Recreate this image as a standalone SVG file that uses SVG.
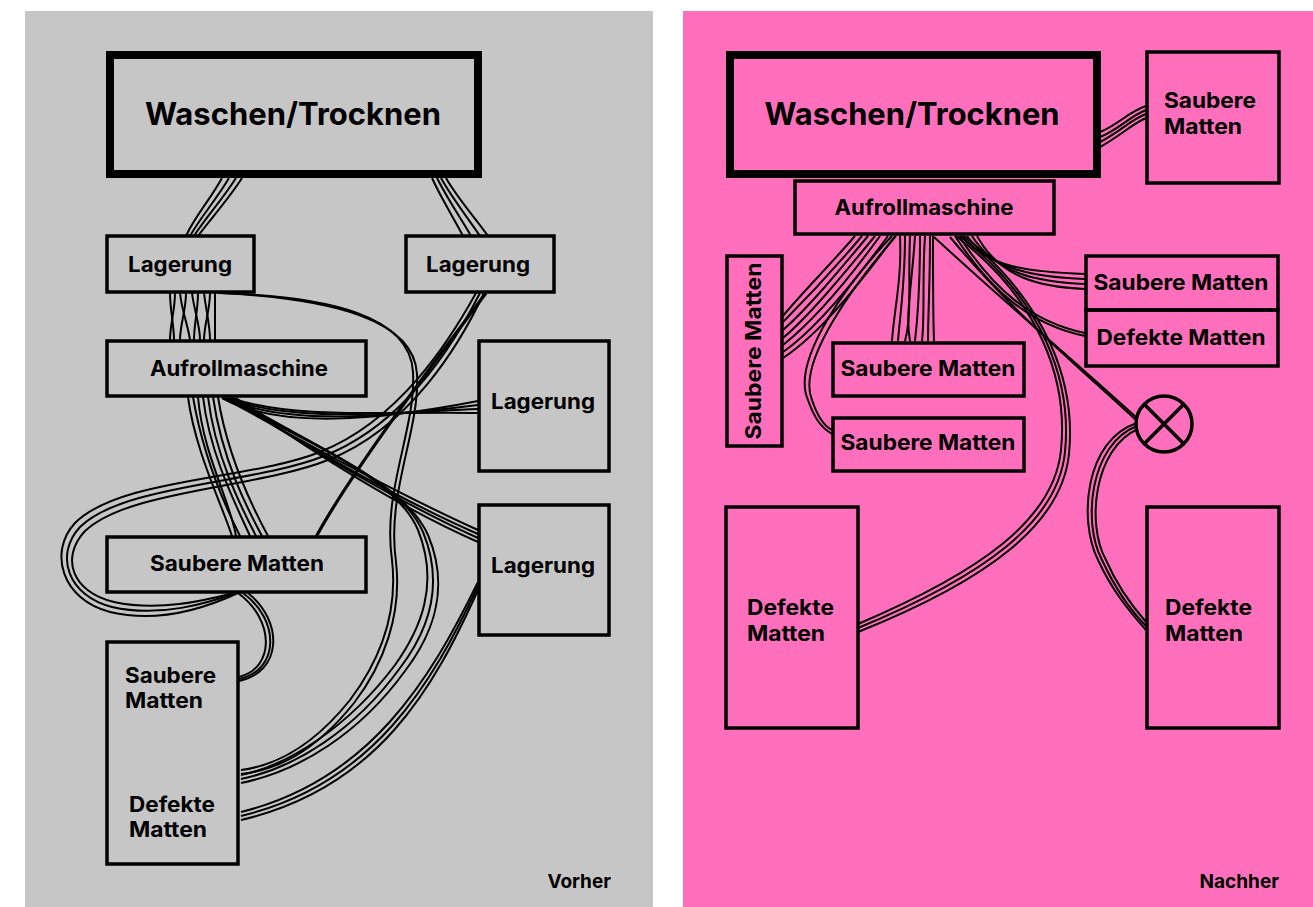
<svg xmlns="http://www.w3.org/2000/svg" width="1313" height="907" viewBox="0 0 1313 907">
<style>
.box{fill:none;stroke:#000;stroke-width:3.5}
.big{fill:none;stroke:#000;stroke-width:8}
.c{fill:none;stroke:#000;stroke-width:2}
.t{fill:none;stroke:#000;stroke-width:3.2}
text{font-family:Inter,"Liberation Sans",Arial,sans-serif;font-weight:700;fill:#000}
.l{font-size:21px}
.b{font-size:31px}
.m{text-anchor:middle}
.e{text-anchor:end;font-size:19px}
</style>
<rect x="0" y="0" width="1313" height="907" fill="#fff"/>
<rect x="25" y="11" width="628" height="896" fill="#c6c6c6"/>
<rect x="683" y="11" width="630" height="896" fill="#ff6fbb"/>

<g id="connectors">
<path class="c" d="M222,178 C210,200 195,216 186,236"/>
<path class="c" d="M229,178 C216,200 200,218 190,236"/>
<path class="c" d="M236,178 C222,200 204,220 194,236"/>
<path class="c" d="M242,178 C228,200 208,222 198,236"/>
<path class="c" d="M432,178 C442,200 455,220 463,236"/>
<path class="c" d="M437,178 C448,200 462,220 471,236"/>
<path class="c" d="M441,178 C452,198 468,218 480,236"/>
<path class="c" d="M446,178 C456,196 475,218 488,236"/>
<path class="c" d="M170,293 C170,310 174,325 174,340"/>
<path class="c" d="M175,293 C175,310 170,325 170,340"/>
<path class="c" d="M180,293 C182,312 188,325 190,340"/>
<path class="c" d="M186,293 C186,310 180,325 180,340"/>
<path class="c" d="M192,293 C194,310 200,325 200,340"/>
<path class="c" d="M198,293 C198,310 194,325 194,340"/>
<path class="c" d="M204,293 C206,310 210,325 210,340"/>
<path class="c" d="M210,293 C210,310 204,325 204,340"/>
<path class="c" d="M215,293 C215,310 215,325 215,340"/>
<path class="c" d="M218,293 C330,296 410,316 413,372 C416,430 382,490 392,560 C398,612 380,660 350,700 C310,750 272,766 241,770"/>
<path class="c" d="M222,293 C334,299 414,320 417,374 C420,432 386,492 396,562 C402,614 384,664 354,703 C314,753 276,770 241,774"/>
<path class="c" d="M188,397 C195,450 220,500 232,536"/>
<path class="c" d="M193,397 C202,450 222,500 240,536"/>
<path class="c" d="M198,397 C203,455 230,500 236,536"/>
<path class="c" d="M203,397 C210,455 236,505 250,536"/>
<path class="c" d="M208,397 C215,455 240,505 256,536"/>
<path class="c" d="M213,397 C222,460 248,510 262,536"/>
<path class="c" d="M218,397 C228,460 255,512 268,536"/>
<path class="c" d="M222,398 C280,430 380,420 478,401"/>
<path class="c" d="M225,398 C285,426 382,417 478,405"/>
<path class="c" d="M228,398 C290,423 386,413 478,409"/>
<path class="c" d="M231,398 C295,420 390,411 478,413"/>
<path class="c" d="M224,398 C300,440 400,495 478,530"/>
<path class="c" d="M228,398 C305,445 400,500 478,534"/>
<path class="c" d="M232,398 C310,450 405,505 478,538"/>
<path class="c" d="M236,398 C315,455 405,510 478,542"/>
<path class="c" d="M226,398 C300,440 395,475 418,530 C440,585 420,630 395,665 C350,725 290,765 241,775"/>
<path class="c" d="M230,398 C305,442 400,478 423,532 C446,588 426,634 400,668 C355,730 295,768 241,779"/>
<path class="c" d="M234,398 C310,445 405,482 428,535 C452,592 430,638 405,671 C360,733 300,771 241,783"/>
<path class="t" d="M486,293 C455,335 355,465 316,537"/>
<path class="c" d="M476,293 C450,340 400,420 320,452 C250,480 120,478 75,523 C48,552 62,600 110,612 C160,624 210,606 238,593"/>
<path class="c" d="M480,293 C455,342 405,424 324,456 C254,484 124,484 80,527 C54,555 68,596 112,607 C160,618 208,603 236,593"/>
<path class="c" d="M484,293 C460,344 410,428 328,460 C258,488 128,490 85,531 C60,558 72,592 114,602 C160,612 206,600 234,593"/>
<path class="c" d="M238,593 C275,620 275,668 239,677"/>
<path class="c" d="M243,593 C280,620 280,670 239,679"/>
<path class="c" d="M248,593 C284,622 282,672 239,681"/>
<path class="c" d="M478,582 C430,680 370,780 241,812"/>
<path class="c" d="M478,586 C432,684 374,784 241,816"/>
<path class="c" d="M478,590 C434,688 378,788 241,820"/>

<path class="c" d="M1100,132 C1118,125 1128,112 1146,106"/>
<path class="c" d="M1100,137 C1118,130 1130,116 1146,110"/>
<path class="c" d="M1100,142 C1120,132 1130,120 1146,114"/>
<path class="c" d="M1100,147 C1120,136 1132,124 1146,118"/>
<path class="c" d="M855,236 C830,265 800,295 783,316"/>
<path class="c" d="M862,236 C835,268 805,300 783,322"/>
<path class="c" d="M868,236 C838,272 808,308 783,330"/>
<path class="c" d="M875,236 C842,276 810,315 783,338"/>
<path class="c" d="M880,236 C848,280 812,322 783,345"/>
<path class="c" d="M888,236 C852,285 815,330 783,352"/>
<path class="c" d="M895,236 C855,290 818,335 783,358"/>
<path class="c" d="M892,236 C850,280 790,360 808,400 C815,420 822,428 832,434"/>
<path class="c" d="M896,236 C856,282 796,362 812,400 C818,418 824,426 832,430"/>
<path class="c" d="M900,236 C902,280 894,310 892,341"/>
<path class="c" d="M905,236 C905,285 900,315 898,341"/>
<path class="c" d="M910,236 C908,280 912,315 905,341"/>
<path class="c" d="M915,236 C912,285 905,315 910,341"/>
<path class="c" d="M920,236 C920,285 918,315 915,341"/>
<path class="c" d="M925,236 C922,280 925,315 922,341"/>
<path class="c" d="M930,236 C930,285 928,315 928,341"/>
<path class="c" d="M933,236 C933,285 933,315 934,341"/>
<path class="c" d="M962,236 C988,268 1030,272 1085,274"/>
<path class="c" d="M967,236 C992,270 1034,277 1085,279"/>
<path class="c" d="M972,236 C996,274 1038,282 1085,284"/>
<path class="c" d="M977,236 C1000,278 1040,287 1085,289"/>
<path class="c" d="M955,236 C990,290 1030,325 1085,336"/>
<path class="c" d="M959,236 C994,290 1032,322 1085,333"/>
<path class="c" d="M934,237 C1000,298 1080,366 1137,418"/>
<path class="c" d="M950,237 C1010,310 1080,368 1137,421"/>
<path class="c" d="M956,236 C1040,300 1068,380 1061,450 C1054,520 980,572 858,624"/>
<path class="c" d="M960,236 C1044,302 1072,382 1065,452 C1058,522 984,576 858,628"/>
<path class="c" d="M964,236 C1048,304 1076,384 1069,454 C1062,524 988,580 858,632"/>
<path class="c" d="M1137,423 C1085,440 1078,520 1098,560 C1112,590 1128,610 1146,630"/>
<path class="c" d="M1137,426 C1090,444 1082,522 1102,560 C1116,590 1130,610 1146,626"/>
<path class="c" d="M1138,429 C1094,448 1086,524 1106,560 C1118,588 1132,606 1146,622"/>
</g>

<g id="l-waschen"><rect class="big" x="110" y="55" width="368" height="119"/><text class="b m" x="293" y="125" textLength="296" lengthAdjust="spacingAndGlyphs">Waschen/Trocknen</text></g>
<g id="l-lagerung1"><rect class="box" x="107" y="236" width="147" height="56"/><text class="l m" x="180" y="272" textLength="104" lengthAdjust="spacingAndGlyphs">Lagerung</text></g>
<g id="l-lagerung2"><rect class="box" x="406" y="236" width="148" height="56"/><text class="l m" x="478" y="272" textLength="104" lengthAdjust="spacingAndGlyphs">Lagerung</text></g>
<g id="l-aufroll"><rect class="box" x="107" y="341" width="259" height="55"/><text class="l m" x="239" y="376" textLength="178" lengthAdjust="spacingAndGlyphs">Aufrollmaschine</text></g>
<g id="l-lagerung3"><rect class="box" x="479" y="341" width="130" height="130"/><text class="l m" x="543" y="409" textLength="104" lengthAdjust="spacingAndGlyphs">Lagerung</text></g>
<g id="l-lagerung4"><rect class="box" x="479" y="505" width="130" height="130"/><text class="l m" x="543" y="573" textLength="104" lengthAdjust="spacingAndGlyphs">Lagerung</text></g>
<g id="l-saubere"><rect class="box" x="107" y="537" width="259" height="55"/><text class="l m" x="237" y="571" textLength="174" lengthAdjust="spacingAndGlyphs">Saubere Matten</text></g>
<g id="l-matten"><rect class="box" x="107" y="642" width="131" height="222"/>
<text class="l" x="125" y="683" textLength="91" lengthAdjust="spacingAndGlyphs">Saubere</text><text class="l" x="125" y="708" textLength="78" lengthAdjust="spacingAndGlyphs">Matten</text>
<text class="l" x="129" y="812" textLength="86" lengthAdjust="spacingAndGlyphs">Defekte</text><text class="l" x="129" y="837" textLength="78" lengthAdjust="spacingAndGlyphs">Matten</text></g>
<text class="e" x="611" y="888">Vorher</text>

<g id="r-waschen"><rect class="big" x="730" y="55" width="367" height="119"/><text class="b m" x="912" y="125" textLength="295" lengthAdjust="spacingAndGlyphs">Waschen/Trocknen</text></g>
<g id="r-saubere-top"><rect class="box" x="1147" y="52" width="132" height="131"/><text class="l" x="1164" y="108" textLength="92" lengthAdjust="spacingAndGlyphs">Saubere</text><text class="l" x="1164" y="134" textLength="78" lengthAdjust="spacingAndGlyphs">Matten</text></g>
<g id="r-aufroll"><rect class="box" x="795" y="181" width="259" height="53"/><text class="l m" x="924" y="215" textLength="179" lengthAdjust="spacingAndGlyphs">Aufrollmaschine</text></g>
<g id="r-saubere-vert"><rect class="box" x="727" y="256" width="55" height="190"/><text class="l m" transform="translate(761,351) rotate(-90)" x="0" y="0" textLength="177" lengthAdjust="spacingAndGlyphs">Saubere Matten</text></g>
<g id="r-saubere-right"><rect class="box" x="1086" y="256" width="192" height="54"/><text class="l m" x="1181" y="290" textLength="175" lengthAdjust="spacingAndGlyphs">Saubere Matten</text></g>
<g id="r-defekte-right"><rect class="box" x="1086" y="310" width="192" height="56"/><text class="l m" x="1181" y="345" textLength="169" lengthAdjust="spacingAndGlyphs">Defekte Matten</text></g>
<g id="r-saubere-mid"><rect class="box" x="833" y="343" width="191" height="53"/><text class="l m" x="928" y="376" textLength="175" lengthAdjust="spacingAndGlyphs">Saubere Matten</text></g>
<g id="r-saubere-mid2"><rect class="box" x="833" y="418" width="191" height="53"/><text class="l m" x="928" y="450" textLength="175" lengthAdjust="spacingAndGlyphs">Saubere Matten</text></g>
<g id="r-valve"><circle cx="1164" cy="424" r="28" fill="none" stroke="#000" stroke-width="3.5"/><path d="M1144,404 L1184,444 M1184,404 L1144,444" fill="none" stroke="#000" stroke-width="3.5"/></g>
<g id="r-defekte-bl"><rect class="box" x="726" y="507" width="132" height="221"/><text class="l" x="747" y="615" textLength="87" lengthAdjust="spacingAndGlyphs">Defekte</text><text class="l" x="747" y="641" textLength="78" lengthAdjust="spacingAndGlyphs">Matten</text></g>
<g id="r-defekte-br"><rect class="box" x="1147" y="507" width="132" height="221"/><text class="l" x="1165" y="615" textLength="87" lengthAdjust="spacingAndGlyphs">Defekte</text><text class="l" x="1165" y="641" textLength="78" lengthAdjust="spacingAndGlyphs">Matten</text></g>
<text class="e" x="1279" y="888">Nachher</text>
</svg>
